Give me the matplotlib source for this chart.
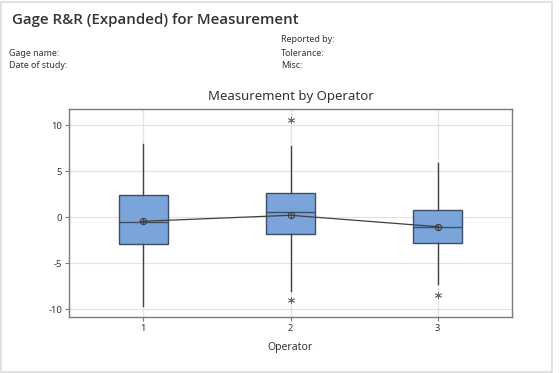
import matplotlib
matplotlib.use("Agg")
import matplotlib.pyplot as plt
from matplotlib.patches import Rectangle

plt.rcParams['font.family'] = ['Noto Sans', 'DejaVu Sans']

operators = ["1", "2", "3"]
q1 = [-2.93, -1.85, -2.83]
medians = [-0.54, 0.54, -1.09]
q3 = [2.39, 2.61, 0.79]
whisker_low = [-9.6, -8.0, -7.25]
whisker_high = [7.97, 7.8, 5.93]
means = [-0.43, 0.22, -1.02]
outliers = [[], [10.58, -9.0], [-8.45]]
yticks = [-10, -5, 0, 5, 10]

fig = plt.figure(figsize=(5.59, 3.73), dpi=100)
fig.patch.set_facecolor("white")
fig.add_artist(Rectangle((0.002, 0.004), 0.985, 0.99, transform=fig.transFigure,
                         fill=False, edgecolor="#dcdcdc", linewidth=1.2))

fig.text(12/559, 1-20/373, "Gage R&R (Expanded) for Measurement", fontsize=10.8,
         family=["Open Sans", "Noto Sans", "DejaVu Sans"], fontweight=600,
         color="#333333", va="center", ha="left")
fig.text(9/559, 1-53/373, "Gage name:", fontsize=6.4, color="#333333", va="center")
fig.text(9/559, 1-66/373, "Date of study:", fontsize=6.4, color="#333333", va="center")
fig.text(281/559, 1-40/373, "Reported by:", fontsize=6.4, color="#333333", va="center")
fig.text(281/559, 1-53/373, "Tolerance:", fontsize=6.4, color="#333333", va="center")
fig.text(281/559, 1-66/373, "Misc:", fontsize=6.4, color="#333333", va="center")

ax = fig.add_axes([69/559, (373-317.3)/373, (512-69)/559, (317.3-109.3)/373])
positions = list(range(1, len(operators)+1))

stats = []
for i in range(len(operators)):
    stats.append(dict(med=medians[i], q1=q1[i], q3=q3[i], whislo=whisker_low[i],
                      whishi=whisker_high[i], fliers=outliers[i], mean=means[i],
                      label=operators[i]))

ax.bxp(stats, positions=positions, widths=0.335, patch_artist=True, showfliers=False,
       showcaps=False,
       boxprops=dict(facecolor="#7BA5DA", edgecolor="#3d4f66", linewidth=1.0),
       medianprops=dict(color="#3d4f66", linewidth=1.0),
       whiskerprops=dict(color="#404040", linewidth=1.0), zorder=3)

for i, p in enumerate(positions):
    if outliers[i]:
        ax.plot([p]*len(outliers[i]), outliers[i], linestyle="none", marker=(6, 2, 0),
                markersize=5, markeredgecolor="#6a6a6a", markeredgewidth=0.6, zorder=4)

ax.plot(positions, means, color="#404040", linewidth=0.9, zorder=4)
ax.plot(positions, means, linestyle="none", marker="o", markersize=4.5,
        markerfacecolor="none", markeredgecolor="#404040", markeredgewidth=0.8, zorder=5)
ax.plot(positions, means, linestyle="none", marker="+", markersize=4.5,
        markeredgecolor="#404040", markeredgewidth=0.8, zorder=5)

ax.set_xlim(0.495, 3.505)
ax.set_ylim(-10.87, 11.74)
ax.set_yticks(yticks)
ax.set_yticklabels([str(t) for t in yticks])
ax.set_xticks(positions)
ax.set_xticklabels(operators)
ax.grid(True, color="#e3e3e3", linewidth=0.9, zorder=0)
ax.set_axisbelow(True)
for s in ax.spines.values():
    s.set_color("#7a7a7a")
    s.set_linewidth(1.0)
ax.tick_params(axis="both", labelsize=6.8, colors="#7a7a7a", labelcolor="#333333",
               length=3, width=0.8, pad=2)
ax.set_title("Measurement by Operator", fontsize=9.5, color="#333333", pad=7)
ax.set_xlabel("Operator", fontsize=7.5, color="#333333", labelpad=6)

fig.savefig("out.png", dpi=100)
